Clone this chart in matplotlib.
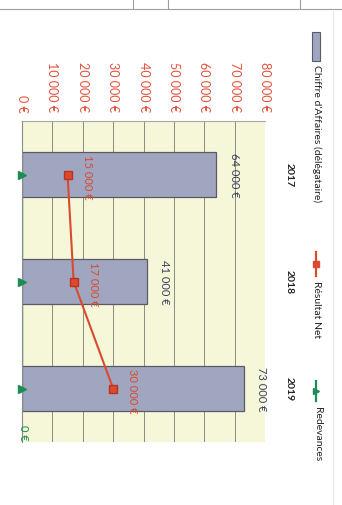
import matplotlib
matplotlib.use("Agg")
import matplotlib.pyplot as plt
from matplotlib.lines import Line2D
from matplotlib.patches import Rectangle

plt.rcParams['font.family'] = ['Lato', 'DejaVu Sans']

# ---- data ----
years = ["2017", "2018", "2019"]
chiffre_affaires = [64000, 41000, 73000]
resultat_net = [15000, 17000, 30000]
redevances = [0, 0, 0]
ca_labels = ["64 000 €", "41 000 €", "73 000 €"]
rn_labels = ["15 000 €", "17 000 €", "30 000 €"]
red_labels = ["", "", "0 €"]
tick_values = [0, 10000, 20000, 30000, 40000, 50000, 60000, 70000, 80000]
tick_labels = ["0 €", "10 000 €", "20 000 €", "30 000 €", "40 000 €",
               "50 000 €", "60 000 €", "70 000 €", "80 000 €"]
legend_names = ["Chiffre d'Affaires (délégataire)", "Résultat Net", "Redevances"]

W, H = 342, 506
fig = plt.figure(figsize=(W / 100, H / 100), dpi=100)
fig.patch.set_facecolor('white')


def fx(px):
    return px / W


def fy(py):
    return 1 - py / H


# plot area in pixels: x 22..265, y 122..443
ax = fig.add_axes([fx(22), fy(443), fx(265) - fx(22), fy(122) - fy(443)])
ax.set_facecolor('#f5f7d8')

pos = list(range(len(years)))
bar_c = '#a1a6c0'
red_c = '#d94a2e'
green_c = '#1e8c55'

bars = ax.barh(pos, chiffre_affaires, height=0.42, color=bar_c,
               edgecolor='#5a5a66', linewidth=0.9, zorder=2)
ax.plot(resultat_net, pos, color=red_c, lw=1.5, marker='s', ms=6,
        mfc=red_c, mec='#c03020', zorder=4)
ax.plot(redevances, pos, color=green_c, lw=1.0, zorder=1.5)
ax.plot(redevances, pos, ls='none', marker='>', ms=6,
        mfc=green_c, mec=green_c, zorder=5, clip_on=False)

ax.set_xlim(tick_values[0], tick_values[-1])
ax.set_ylim(len(years) - 0.5, -0.5)

ax.set_xticks(tick_values)
ax.set_xticklabels(tick_labels, rotation=270, color='#e3523c', fontsize=9)
ax.xaxis.tick_top()
ax.tick_params(axis='x', length=0, pad=7)

ax.set_yticks(pos)
ax.set_yticklabels(years, rotation=270, fontsize=7.5, color='#222222', va='center',
                   fontweight='bold')
ax.yaxis.tick_right()
ax.tick_params(axis='y', length=0, pad=14)

ax.grid(axis='x', color='#8a8a80', lw=0.7, zorder=1)
ax.set_axisbelow(True)
for s in ['right', 'bottom']:
    ax.spines[s].set_visible(False)
ax.spines['left'].set_color('#8a8a8a')
ax.spines['top'].set_color('#a8a8a0')
ax.spines['left'].set_linewidth(0.8)
ax.spines['top'].set_linewidth(0.8)
ax.spines['left'].set_zorder(3)

# bar labels
ax.bar_label(bars, labels=ca_labels, padding=9, rotation=270,
             fontsize=8, color='#3c405c')

# resultat net labels
for v, p, lab in zip(resultat_net, pos, rn_labels):
    ax.annotate(lab, (v, p), xytext=(14, -1), textcoords='offset points',
                rotation=270, ha='center', va='center', fontsize=8,
                color=red_c, zorder=6)

# redevances labels
for v, p, lab in zip(redevances, pos, red_labels):
    if lab:
        ax.annotate(lab, (v, p), xytext=(1, -31), textcoords='offset points',
                    rotation=270, ha='center', va='center', fontsize=8,
                    color=green_c, zorder=6, annotation_clip=False)

# ---- legend (rotated) ----
lx = 316
fig.patches.append(Rectangle((fx(312), fy(62)), fx(320) - fx(312), fy(33) - fy(62),
                             transform=fig.transFigure, facecolor=bar_c,
                             edgecolor='#5a5a66', lw=0.8))
fig.text(fx(lx + 1), fy(65), legend_names[0], rotation=270, ha='center', va='top',
         fontsize=7.5, color='#222222')
fig.lines.append(Line2D([fx(lx), fx(lx)], [fy(253), fy(277)], transform=fig.transFigure,
                        color=red_c, lw=1.6))
fig.lines.append(Line2D([fx(lx)], [fy(265)], transform=fig.transFigure, marker='s',
                        ms=5, color=red_c))
fig.text(fx(lx + 1), fy(281), legend_names[1], rotation=270, ha='center', va='top',
         fontsize=7.5, color='#222222')
fig.lines.append(Line2D([fx(lx), fx(lx)], [fy(382), fy(402)], transform=fig.transFigure,
                        color=green_c, lw=1.6))
fig.lines.append(Line2D([fx(lx)], [fy(392)], transform=fig.transFigure, marker='>',
                        ms=5, color=green_c))
fig.text(fx(lx + 1), fy(407), legend_names[2], rotation=270, ha='center', va='top',
         fontsize=7.5, color='#222222')

# ---- page remnants ----
fig.lines.append(Line2D([0, 1], [fy(10), fy(10)], transform=fig.transFigure,
                        color='#a0a0a0', lw=0.8))
for px in [133, 168, 300]:
    fig.lines.append(Line2D([fx(px), fx(px)], [1, fy(10)], transform=fig.transFigure,
                            color='#a0a0a0', lw=0.8))
fig.lines.append(Line2D([fx(333), fx(333)], [fy(12), 0], transform=fig.transFigure,
                        color='#e6e6e6', lw=0.8))

fig.savefig("out.png", dpi=100, facecolor='white')
